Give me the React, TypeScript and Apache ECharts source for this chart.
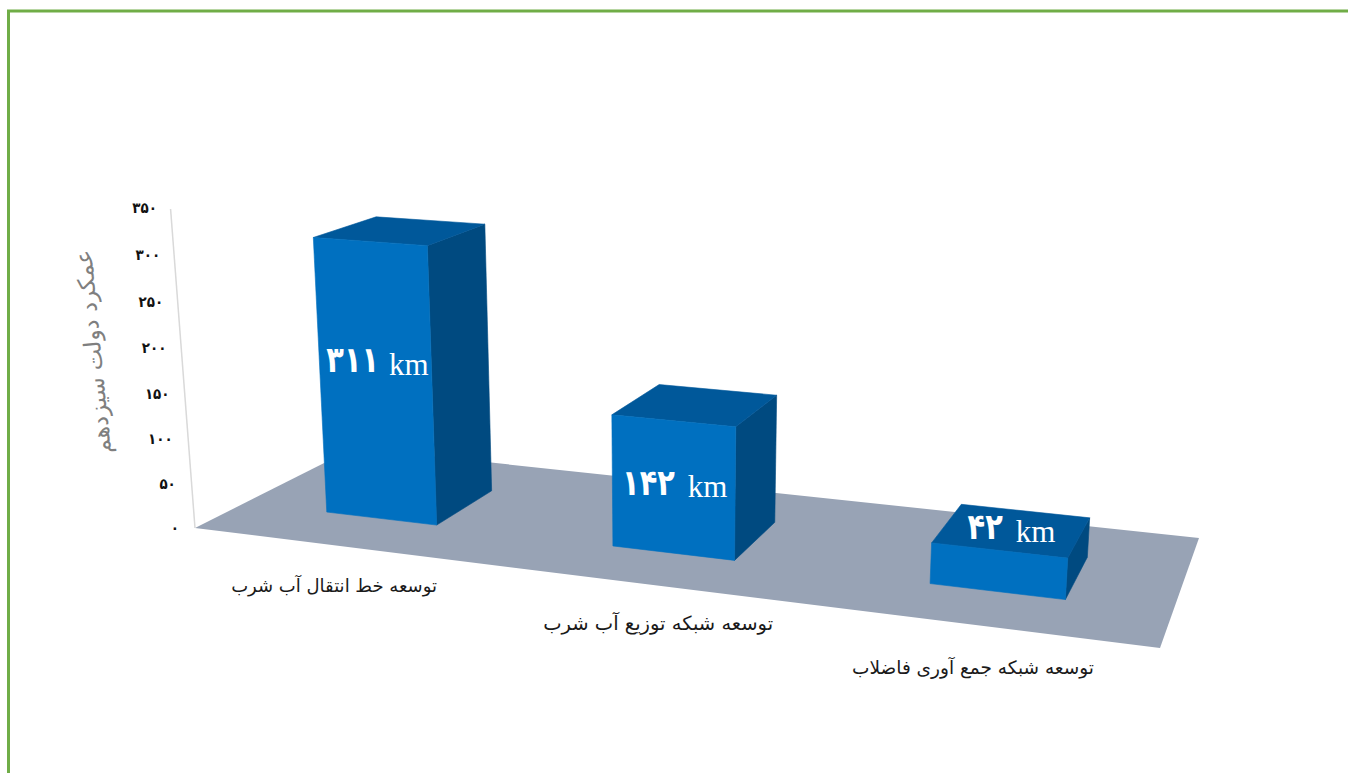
import React, { useEffect, useRef } from "react";
import * as echarts from "echarts";

const categories = ["توسعه خط انتقال آب شرب", "توسعه شبکه توزیع آب شرب", "توسعه شبکه جمع آوری فاضلاب"];
const lengthsKm = [311, 142, 42];
const tickValues = [0, 50, 100, 150, 200, 250, 300, 350];
const yAxisTitle = "عمکرد دولت سیزدهم";
const unitLabel = "km";

// Layout of the perspective scene
const FLOOR = { a: [195, 528], b: [1160, 648], c: [1199, 538], d: [354, 448] };
const labelNudge = [[13, -16], [14, 0], [17, -40]];
const digitGap = [10, 13, 13];
const categoryNudge = [[-1, 0], [0, 0], [-3, 2]];
const categoryOffsetX = [0, 20, 0];
const categoryFontSize = [18, 19.5, 18.5];
const COLORS = { front: "#0070C0", top: "#00589A", side: "#004A80", floor: "#98A3B5", axis: "#D9D9D9", frame: "#70AD47" };
const FONT_AR = "'DejaVu Sans', sans-serif";

const fa = (v: number) => String(v).replace(/\d/g, (d) => "۰۱۲۳۴۵۶۷۸۹"[+d]);

// Homography from the unit square (u along the front edge, v into the depth) to the floor quad
function makeFloor() {
  const [x0, y0] = FLOOR.a, [x1, y1] = FLOOR.b, [x2, y2] = FLOOR.c, [x3, y3] = FLOOR.d;
  const dx1 = x1 - x2, dx2 = x3 - x2, sx = x0 - x1 + x2 - x3;
  const dy1 = y1 - y2, dy2 = y3 - y2, sy = y0 - y1 + y2 - y3;
  const den = dx1 * dy2 - dx2 * dy1;
  const g = (sx * dy2 - dx2 * sy) / den;
  const h = (dx1 * sy - sx * dy1) / den;
  const a = x1 - x0 + g * x1, b = x3 - x0 + h * x3, c = x0;
  const d = y1 - y0 + g * y1, e = y3 - y0 + h * y3, f = y0;
  return (u: number, v: number) => {
    const w = g * u + h * v + 1;
    return [(a * u + b * v + c) / w, (d * u + e * v + f) / w];
  };
}
const floorPoint = makeFloor();
const AXIS_UNIT = 320 / 350;

// Raises a floor point by an axis distance, with the scene's converging verticals
function lift(p: number[], axisPx: number) {
  const s = (0.884 + 0.0012 * (p[1] - 513)) / AXIS_UNIT;
  const h = axisPx * s;
  return [p[0] - ((670 - p[0]) / 7000) * h, p[1] - h];
}

const face = (points: number[][], fill: string) => ({
  type: "polygon",
  shape: { points },
  style: { fill, stroke: fill, lineWidth: 0.6 },
});

export default function App() {
  const ref = useRef<HTMLDivElement>(null);
  useEffect(() => {
    const chart = echarts.init(ref.current!, undefined, { renderer: "svg" });
    const GRID = { left: 195, top: 208, width: 965, height: 320 };
    chart.setOption({
      animation: false,
      backgroundColor: "#ffffff",
      grid: GRID,
      xAxis: { type: "category", data: categories, show: false },
      yAxis: { type: "value", min: 0, max: 350, interval: 50, show: false },
      graphic: [
        {
          type: "rect",
          z: 100,
          silent: true,
          shape: { x: 8.5, y: 11, width: 1500, height: 900 },
          style: { fill: "none", stroke: COLORS.frame, lineWidth: 3 },
        },
      ],
      series: [
        {
          type: "custom",
          name: "floor",
          z: 1,
          silent: true,
          clip: false,
          data: [[0, 0]],
          renderItem: (_p: any, api: any) => {
            const base = api.coord([0, 0])[1];
            const top = api.coord([0, 350])[1];
            const corner = floorPoint(0, 0);
            return {
              type: "group",
              children: [
                {
                  type: "polygon",
                  shape: { points: [FLOOR.a, FLOOR.b, FLOOR.c, FLOOR.d] },
                  style: { fill: COLORS.floor },
                },
                {
                  type: "line",
                  shape: {
                    x1: corner[0], y1: corner[1],
                    x2: lift(corner, base - top)[0] - 3, y2: 209,
                  },
                  style: { stroke: COLORS.axis, lineWidth: 1.5 },
                },
              ],
            };
          },
        },
        {
          type: "custom",
          name: "ticks",
          z: 2,
          silent: true,
          clip: false,
          data: tickValues.map((v) => [0, v]),
          encode: { x: 0, y: 1 },
          renderItem: (_p: any, api: any) => {
            const v = api.value(1);
            const t = v / 350;
            const y = api.coord([0, v])[1] + 12 * t * (1 - t);
            const xRight = 179 - 22 * t;
            return {
              type: "text",
              x: xRight,
              y,
              scaleX: 0.9,
              style: {
                text: fa(v),
                fontFamily: FONT_AR,
                fontWeight: "bold",
                fontSize: 15,
                fill: "#111111",
                align: "right",
                verticalAlign: "middle",
              },
            };
          },
        },
        {
          type: "custom",
          name: "bars",
          z: 3,
          silent: true,
          clip: false,
          data: lengthsKm.map((v, i) => [i, v]),
          encode: { x: 0, y: 1 },
          renderItem: (_params: any, api: any) => {
            const i = api.value(0);
            const value = api.value(1);
            const [cx, yTop] = api.coord([i, value]);
            const yBase = api.coord([i, 0])[1];
            const band = api.size([1, 0])[0] / GRID.width;
            const u = (cx - GRID.left) / GRID.width;
            const half = band * 0.198;
            const v0 = 0.29, v1 = 0.69;
            const axisPx = yBase - yTop;
            const fl = floorPoint(u - half, v0);
            const fr = floorPoint(u + half, v0);
            const br = floorPoint(u + half, v1);
            const bl = floorPoint(u - half, v1);
            const tfl = lift(fl, axisPx), tfr = lift(fr, axisPx), tbr = lift(br, axisPx), tbl = lift(bl, axisPx);
            const nudge = labelNudge[i];
            const lx = (fl[0] + fr[0] + tfl[0] + tfr[0]) / 4 + nudge[0];
            const ly = (fl[1] + fr[1] + tfl[1] + tfr[1]) / 4 + nudge[1];
            return {
              type: "group",
              children: [
                face([fr, br, tbr, tfr], COLORS.side),
                face([tfl, tfr, tbr, tbl], COLORS.top),
                face([fl, fr, tfr, tfl], COLORS.front),
                {
                  type: "text",
                  x: lx - digitGap[i],
                  y: ly - 4,
                  scaleX: 0.8,
                  style: {
                    text: fa(value),
                    fontFamily: FONT_AR,
                    fontWeight: "bold",
                    fontSize: 36,
                    fill: "#ffffff",
                    align: "right",
                    verticalAlign: "middle",
                  },
                },
                {
                  type: "text",
                  x: lx,
                  y: ly,
                  style: {
                    text: unitLabel,
                    fontFamily: "'Liberation Serif', serif",
                    fontSize: 31,
                    fill: "#ffffff",
                    align: "left",
                    verticalAlign: "middle",
                  },
                },
              ],
            };
          },
        },
        {
          type: "custom",
          name: "categories",
          z: 4,
          silent: true,
          clip: false,
          data: categories.map((_c, i) => [i, 0]),
          encode: { x: 0, y: 1 },
          renderItem: (_p: any, api: any) => {
            const i = api.value(0);
            const [cx] = api.coord([i, 0]);
            const p = floorPoint((cx - GRID.left) / GRID.width, 0);
            return {
              type: "text",
              x: p[0] + categoryOffsetX[i] + categoryNudge[i][0],
              y: p[1] + 41 + categoryNudge[i][1] - 1,
              style: {
                text: categories[i],
                fontFamily: FONT_AR,
                fontSize: categoryFontSize[i],
                fill: "#1a1a1a",
                align: "center",
                verticalAlign: "middle",
              },
            };
          },
        },
        {
          type: "custom",
          name: "yTitle",
          z: 4,
          silent: true,
          clip: false,
          data: [[0, 175]],
          encode: { x: 0, y: 1 },
          renderItem: () => ({
            type: "text",
            x: 93,
            y: 352,
            rotation: 1.668,
            style: {
              text: yAxisTitle,
              fontFamily: FONT_AR,
              fontSize: 23,
              fill: "#7F7F7F",
              align: "center",
              verticalAlign: "middle",
            },
          }),
        },
      ],
    });
    return () => chart.dispose();
  }, []);
  return (
    <div
      ref={ref}
      style={{ position: "absolute", left: 0, top: 0, width: 1348, height: 773, overflow: "hidden" }}
    />
  );
}
